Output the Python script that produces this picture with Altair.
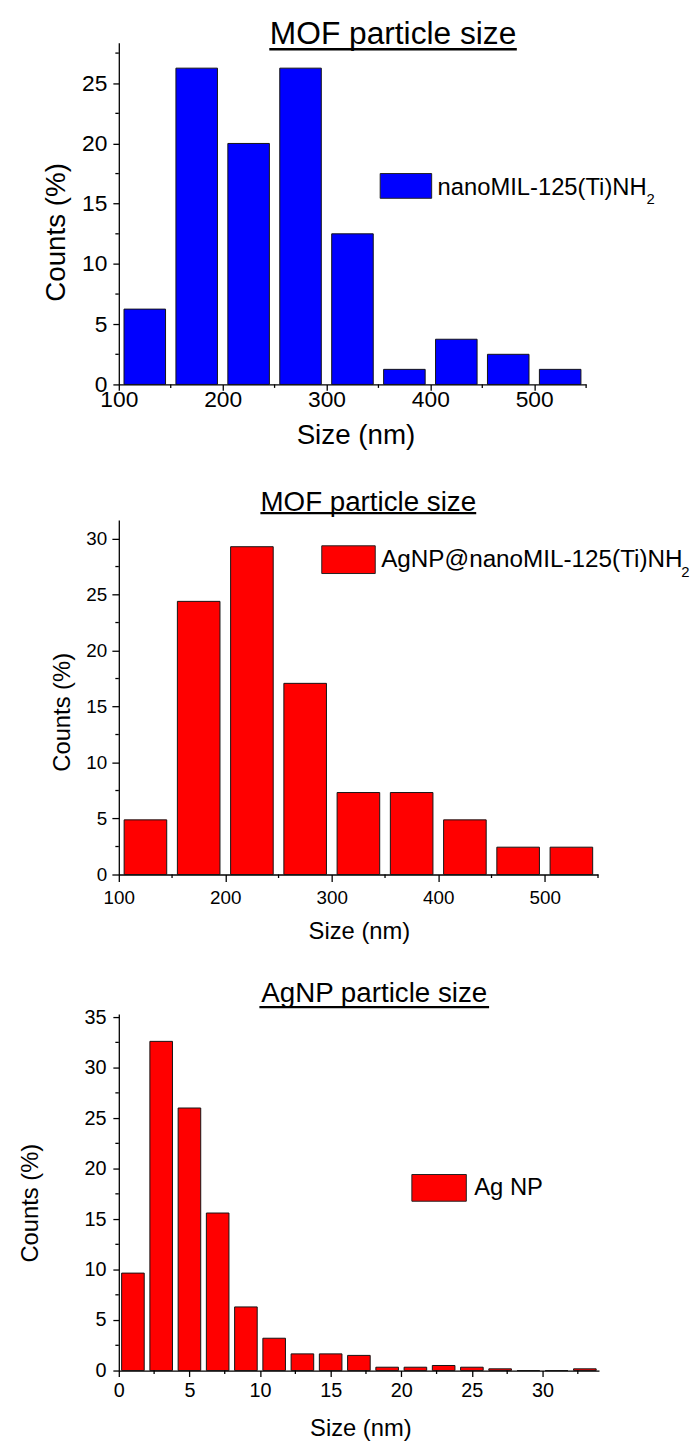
import altair as alt
import pandas as pd

FONT = "Liberation Sans"
CANVAS_W = 698

# ---- histogram data (percent of particles per size bin) ----
mof_start = [100, 150, 200, 250, 300, 350, 400, 450, 500]
mof_pct = [6.25, 26.25, 20.0, 26.25, 12.5, 1.25, 3.75, 2.5, 1.25]

agmof_start = [100, 150, 200, 250, 300, 350, 400, 450, 500]
agmof_pct = [4.88, 24.39, 29.27, 17.07, 7.32, 7.32, 4.88, 2.44, 2.44]

agnp_start = [0, 2, 4, 6, 8, 10, 12, 14, 16, 18, 20, 22, 24, 26, 28, 30, 32]
agnp_pct = [9.65, 32.6, 26.0, 15.6, 6.3, 3.2, 1.65, 1.65, 1.5,
            0.33, 0.33, 0.5, 0.33, 0.17, 0.0, 0.0, 0.17]

# ---- tick positions ----
mof_x_ticks = [100, 200, 300, 400, 500]
mof_x_minor = [150, 250, 350, 450, 550]
agnp_x_ticks = [0, 5, 10, 15, 20, 25, 30]
agnp_x_minor = [2.5, 7.5, 12.5, 17.5, 22.5, 27.5, 32.5]
y_ticks_25 = [0, 5, 10, 15, 20, 25]
y_minor_25 = [2.5, 7.5, 12.5, 17.5, 22.5, 27.5]
y_ticks_30 = [0, 5, 10, 15, 20, 25, 30]
y_minor_30 = [2.5, 7.5, 12.5, 17.5, 22.5, 27.5]
y_ticks_35 = [0, 5, 10, 15, 20, 25, 30, 35]
y_minor_35 = [2.5, 7.5, 12.5, 17.5, 22.5, 27.5, 32.5]

# ---- per-panel layout (page pixels) ----
LAYOUT_MOF = dict(
    ox=120, oy=36, w=472, h=345, xdom=[100, 550], ydom=[0, 28.35],
    band=(0, 460), tick=6, minor=3.5, line=1.3, lab=23, tit=28,
    xlabpad=16, ylabpad=6, xtx=239, xty=60, ytx=-55, yty=191,
    hsize=32, hx=397, hy=37.5, u0=272, u1=522, uy=42.5, uw=2.5,
    sw=(384, 436, 168, 193), lfs=24, lx=442, ly=190, subx=653, suby=199,
)
LAYOUT_AGMOF = dict(
    ox=114, oy=518, w=484, h=358, xdom=[100, 550], ydom=[0, 31.65],
    band=(460, 960), tick=7, minor=3.5, line=1.3, lab=19, tit=24,
    xlabpad=22, ylabpad=5.3, xtx=242.5, xty=65, ytx=-49.5, yty=193.7,
    hsize=28, hx=366, hy=508.5, u0=257, u1=475, uy=511, uw=2.2,
    sw=(319, 373, 544, 572), lfs=24.5, lx=379, ly=565, subx=682, suby=576,
)
LAYOUT_AGNP = dict(
    ox=113, oy=1017, w=485, h=360, xdom=[0, 34], ydom=[0, 35.3],
    band=(960, 1452), tick=6, minor=3.5, line=1.3, lab=20, tit=24,
    xlabpad=20, ylabpad=7, xtx=244, xty=66, ytx=-82, yty=190.5,
    hsize=28, hx=371, hy=1005, u0=255, u1=487, uy=1010, uw=2.2,
    sw=(409, 464, 1179, 1206), lfs=24, lx=472, ly=1200, subx=None, suby=None,
)

ONE = pd.DataFrame({"k": [0]})


def make_panel(starts, pct, bin_w, fill, x_ticks, x_minor, y_ticks, y_minor,
               heading, legend_label, legend_sub, L):
    ox, oy, w, h = L["ox"], L["oy"], L["w"], L["h"]
    df = pd.DataFrame({"size": starts, "pct": pct})
    df["lo"] = df["size"] + 0.1 * bin_w
    df["hi"] = df["size"] + 0.9 * bin_w
    df["base"] = 0.0

    xs = alt.Scale(domain=L["xdom"], nice=False, zero=False)
    ys = alt.Scale(domain=L["ydom"], nice=False, zero=True)

    common = dict(
        grid=False, domainColor="black", domainWidth=L["line"],
        tickColor="black", tickWidth=L["line"], tickSize=L["tick"],
        labelFont=FONT, labelFontSize=L["lab"], labelColor="black",
        labelFlush=False, labelOverlap=False, format="d",
        titleFont=FONT, titleFontSize=L["tit"], titleFontWeight="normal",
        titleColor="black", titleAlign="center", titleBaseline="alphabetic",
    )
    xaxis = alt.Axis(values=x_ticks, title="Size (nm)", labelBaseline="alphabetic",
                     labelPadding=L["xlabpad"], titleAngle=0,
                     titleX=L["xtx"], titleY=L["xty"], **common)
    yaxis = alt.Axis(values=y_ticks, title="Counts (%)", labelBaseline="middle",
                     labelAlign="right", labelPadding=L["ylabpad"], titleAngle=270,
                     titleX=L["ytx"], titleY=L["yty"], **common)

    bars = alt.Chart(df).mark_bar(
        fill=fill, stroke="#141414", strokeWidth=1
    ).encode(
        x=alt.X("lo:Q", scale=xs, axis=xaxis),
        x2="hi",
        y=alt.Y("pct:Q", scale=ys, axis=yaxis),
        y2="base",
    )

    # minor ticks share the scales (and the same axis definitions)
    x_minor_ticks = alt.Chart(pd.DataFrame({"v": x_minor})).mark_rule(
        color="black", strokeWidth=L["line"]
    ).encode(
        x=alt.X("v:Q", scale=xs, axis=xaxis),
        y=alt.value(h), y2=alt.value(h + L["minor"]),
    )
    y_minor_ticks = alt.Chart(pd.DataFrame({"v": y_minor})).mark_rule(
        color="black", strokeWidth=L["line"]
    ).encode(
        y=alt.Y("v:Q", scale=ys, axis=yaxis),
        x=alt.value(-L["minor"]), x2=alt.value(0),
    )

    # underlined heading
    head = alt.Chart(ONE).mark_text(
        text=heading, font=FONT, fontSize=L["hsize"], align="center",
        baseline="alphabetic", color="black"
    ).encode(x=alt.value(L["hx"] - ox), y=alt.value(L["hy"] - oy))
    underline = alt.Chart(ONE).mark_rule(color="black", strokeWidth=L["uw"]).encode(
        x=alt.value(L["u0"] - ox), x2=alt.value(L["u1"] - ox), y=alt.value(L["uy"] - oy)
    )

    # legend: swatch + label (+ subscript)
    x0, x1, y0, y1 = L["sw"]
    swatch = alt.Chart(ONE).mark_rect(fill=fill, stroke="#222222", strokeWidth=1).encode(
        x=alt.value(x0 - ox), x2=alt.value(x1 - ox),
        y=alt.value(y0 - oy), y2=alt.value(y1 - oy),
    )
    label = alt.Chart(ONE).mark_text(
        text=legend_label, font=FONT, fontSize=L["lfs"], align="left",
        baseline="alphabetic", color="black"
    ).encode(x=alt.value(L["lx"] - ox), y=alt.value(L["ly"] - oy))
    layers = [bars, x_minor_ticks, y_minor_ticks, head, underline, swatch, label]
    if legend_sub:
        sub = alt.Chart(ONE).mark_text(
            text=legend_sub, font=FONT, fontSize=15, align="left",
            baseline="alphabetic", color="black"
        ).encode(x=alt.value(L["subx"] - ox), y=alt.value(L["suby"] - oy))
        layers.append(sub)

    # transparent frame fixing the panel's extent on the page
    top, bottom = L["band"]
    frame = alt.Chart(ONE).mark_rule(strokeWidth=0, opacity=0).encode(
        x=alt.value(-ox), x2=alt.value(CANVAS_W - ox),
        y=alt.value(top - oy), y2=alt.value(bottom - oy),
    )
    layers.append(frame)

    return alt.layer(*layers).properties(width=w, height=h)


p_mof = make_panel(mof_start, mof_pct, 50, "#0000FF", mof_x_ticks, mof_x_minor,
                   y_ticks_25, y_minor_25, "MOF particle size",
                   "nanoMIL-125(Ti)NH", "2", LAYOUT_MOF)
p_agmof = make_panel(agmof_start, agmof_pct, 50, "#FF0000", mof_x_ticks, mof_x_minor,
                     y_ticks_30, y_minor_30, "MOF particle size",
                     "AgNP@nanoMIL-125(Ti)NH", "2", LAYOUT_AGMOF)
p_agnp = make_panel(agnp_start, agnp_pct, 2, "#FF0000", agnp_x_ticks, agnp_x_minor,
                    y_ticks_35, y_minor_35, "AgNP particle size",
                    "Ag NP", None, LAYOUT_AGNP)

chart = alt.vconcat(p_mof, p_agmof, p_agnp, spacing=0).properties(
    padding=0, background="white"
).configure_view(stroke=None)

chart.save("out.html", embed_options={"renderer": "svg", "actions": False})
